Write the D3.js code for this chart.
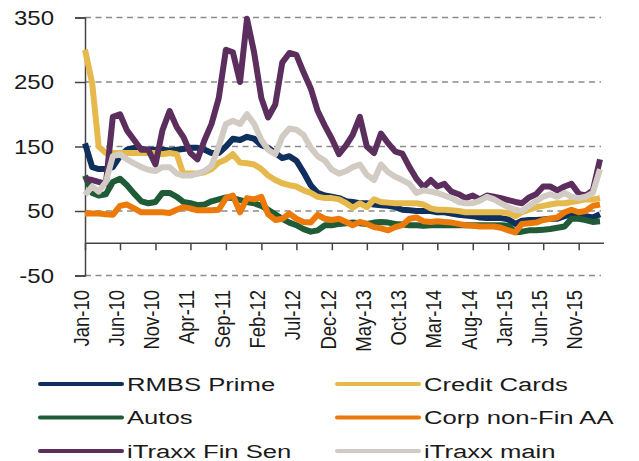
<!DOCTYPE html>
<html>
<head>
<meta charset="utf-8">
<script src="https://cdn.jsdelivr.net/npm/d3@7"></script>
<style>
  body { margin: 0; background: #fff; }
  text { font-family: "Liberation Sans", Arial, sans-serif; fill: #1a1a1a; }
</style>
</head>
<body>
<svg id="chart" width="639" height="461"></svg>
<script>
// series names and colours (legend order)
const seriesNames = ["RMBS Prime", "Credit Cards", "Autos", "Corp non-Fin AA", "iTraxx Fin Sen", "iTraxx main"];
const seriesColors = ["#0f2f5c", "#e5b94c", "#1f5b37", "#ec7a0a", "#5b2e5e", "#d2cbc3"];

// x axis tick labels, every 5 months
const tickLabels = ["Jan-10", "Jun-10", "Nov-10", "Apr-11", "Sep-11", "Feb-12", "Jul-12", "Dec-12",
  "May-13", "Oct-13", "Mar-14", "Aug-14", "Jan-15", "Jun-15", "Nov-15"];
const yTicks = [-50, 50, 150, 250, 350];

// monthly readings, Jan 2010 .. Feb 2016 (74 points)
const rmbsPrime = [155, 118, 115, 115, 118, 135, 145, 148, 146, 145, 145, 145, 144, 145, 146, 148, 148, 145, 140, 140,
  150, 162, 160, 165, 162, 152, 148, 140, 132, 135, 128, 110, 90, 78, 74, 72, 70, 65, 64, 62,
  62, 60, 59, 58, 56, 52, 51, 50, 50, 50, 48, 48, 46, 44, 43, 42, 40, 39, 39, 39,
  37, 30, 35, 36, 36, 37, 38, 38, 42, 44, 43, 42, 40, 45];
const creditCards = [300, 248, 150, 140, 140, 140, 140, 140, 140, 140, 140, 138, 140, 138, 108, 108, 108, 110, 115, 125,
  130, 138, 125, 124, 122, 115, 105, 98, 93, 90, 88, 82, 78, 72, 70, 70, 68, 62, 55, 62,
  56, 68, 64, 63, 62, 62, 62, 62, 60, 54, 52, 52, 51, 50, 48, 48, 48, 48, 48, 48,
  47, 42, 48, 52, 56, 58, 60, 62, 62, 64, 66, 68, 68, 70];
const autos = [105, 78, 74, 76, 95, 100, 90, 77, 65, 62, 64, 78, 78, 72, 64, 62, 59, 60, 65, 68,
  71, 70, 67, 64, 62, 58, 52, 45, 38, 32, 28, 22, 18, 20, 28, 28, 30, 31, 32, 31,
  30, 32, 33, 32, 30, 29, 28, 28, 27, 28, 28, 28, 28, 28, 28, 28, 28, 28, 28, 28,
  27, 17, 18, 20, 20, 21, 22, 24, 26, 38, 38, 36, 33, 34];
const corpNonFin = [46, 46, 46, 45, 44, 58, 60, 54, 48, 48, 48, 48, 47, 52, 56, 54, 51, 51, 51, 52,
  70, 74, 48, 70, 68, 72, 45, 36, 38, 46, 38, 33, 32, 44, 38, 36, 38, 33, 28, 33,
  30, 25, 23, 20, 25, 28, 38, 40, 34, 33, 34, 33, 32, 30, 28, 27, 26, 26, 26, 24,
  20, 17, 30, 31, 32, 36, 38, 40, 48, 52, 48, 50, 58, 60];
const itraxxFinSen = [100, 98, 95, 92, 196, 200, 175, 160, 145, 145, 122, 175, 205, 180, 165, 140, 130, 160, 185, 225,
  300, 296, 250, 348, 295, 225, 195, 215, 280, 295, 292, 265, 240, 205, 182, 162, 138, 152, 168, 196,
  150, 140, 170, 155, 142, 139, 118, 100, 87, 98, 88, 92, 80, 76, 70, 74, 68, 74, 72, 70,
  67, 64, 62, 71, 76, 88, 88, 82, 88, 92, 77, 74, 82, 130];
const itraxxMain = [75, 88, 80, 95, 135, 138, 130, 124, 118, 114, 112, 118, 118, 108, 105, 105, 108, 112, 120, 150,
  185, 190, 185, 200, 185, 160, 145, 138, 165, 178, 176, 168, 148, 135, 128, 114, 108, 112, 118, 122,
  106, 98, 122, 110, 103, 98, 92, 78, 82, 80, 78, 74, 70, 64, 62, 62, 66, 72, 68, 62,
  56, 52, 50, 58, 65, 72, 76, 72, 78, 72, 70, 72, 78, 115];

const seriesValues = [rmbsPrime, creditCards, autos, corpNonFin, itraxxFinSen, itraxxMain];
const dates = d3.timeMonth.range(new Date(2010, 0, 1), new Date(2016, 2, 1));

const svg = d3.select("#chart");

// scales
const x = d3.scaleTime()
  .domain([new Date(2010, 0, 1), new Date(2016, 1, 1)])
  .range([85, 600]);
const y = d3.scaleLinear().domain([-50, 350]).range([275.5, 17.5]);

// dashed grid lines
svg.append("g")
  .selectAll("line")
  .data(yTicks)
  .enter()
  .append("line")
    .attr("x1", 85)
    .attr("x2", 601)
    .attr("y1", d => y(d))
    .attr("y2", d => y(d))
    .attr("stroke", "#8c8c8c")
    .attr("stroke-width", 1.3)
    .attr("stroke-dasharray", "6,4.5");

// y axis with left ticks
const yAxis = svg.append("g")
  .attr("transform", "translate(85,0)")
  .call(d3.axisLeft(y).tickValues(yTicks).tickSize(10).tickFormat(""));
yAxis.select(".domain").attr("stroke", "#444").attr("stroke-width", 1.5);
yAxis.selectAll(".tick line").attr("stroke", "#444").attr("stroke-width", 1.5);

// y tick labels (slightly wide, like the original)
svg.append("g")
  .selectAll("text")
  .data(yTicks)
  .enter()
  .append("text")
    .attr("transform", d => `translate(54,${y(d)}) scale(1.2,1)`)
    .attr("text-anchor", "end")
    .attr("dy", "0.36em")
    .style("font-size", "20px")
    .text(d => d);

// x axis at zero, ticks pointing down
const parseLabel = d3.timeParse("%b-%y");
const xAxis = svg.append("g")
  .attr("transform", `translate(0,${y(0)})`)
  .call(d3.axisBottom(x).tickValues(tickLabels.map(parseLabel)).tickSize(7).tickSizeOuter(0).tickFormat(""));
xAxis.select(".domain").attr("d", `M85,0H604`).attr("stroke", "#444").attr("stroke-width", 1.5);
xAxis.selectAll(".tick line").attr("stroke", "#444").attr("stroke-width", 1.5);

// rotated x labels under the plot
svg.append("g")
  .selectAll("text")
  .data(tickLabels)
  .enter()
  .append("text")
    .attr("transform", d => `translate(${x(parseLabel(d)) - 4},290) scale(1.2,1) rotate(-90)`)
    .attr("text-anchor", "end")
    .attr("dy", "0.35em")
    .style("font-size", "18.5px")
    .text(d => d);

// the six lines
const line = d3.line()
  .x((d, i) => x(dates[i]))
  .y(d => y(d));

svg.append("g")
  .selectAll("path")
  .data(seriesValues)
  .enter()
  .append("path")
    .attr("d", line)
    .attr("fill", "none")
    .attr("stroke", (d, i) => seriesColors[i])
    .attr("stroke-width", 6)
    .attr("stroke-linejoin", "round");

// legend: 2 columns x 3 rows
const legend = svg.append("g")
  .selectAll("g")
  .data(seriesNames)
  .enter()
  .append("g")
    .attr("transform", (d, i) => `translate(${i % 2 === 0 ? 40 : 337},${384 + Math.floor(i / 2) * 33.5})`);

legend.append("line")
  .attr("x1", 0)
  .attr("x2", 82)
  .attr("stroke", (d, i) => seriesColors[i])
  .attr("stroke-width", 4)
  .attr("stroke-linecap", "round");

legend.append("text")
  .attr("transform", "translate(87,0) scale(1.35,1)")
  .attr("dy", "0.36em")
  .style("font-size", "19px")
  .text(d => d);
</script>
</body>
</html>
